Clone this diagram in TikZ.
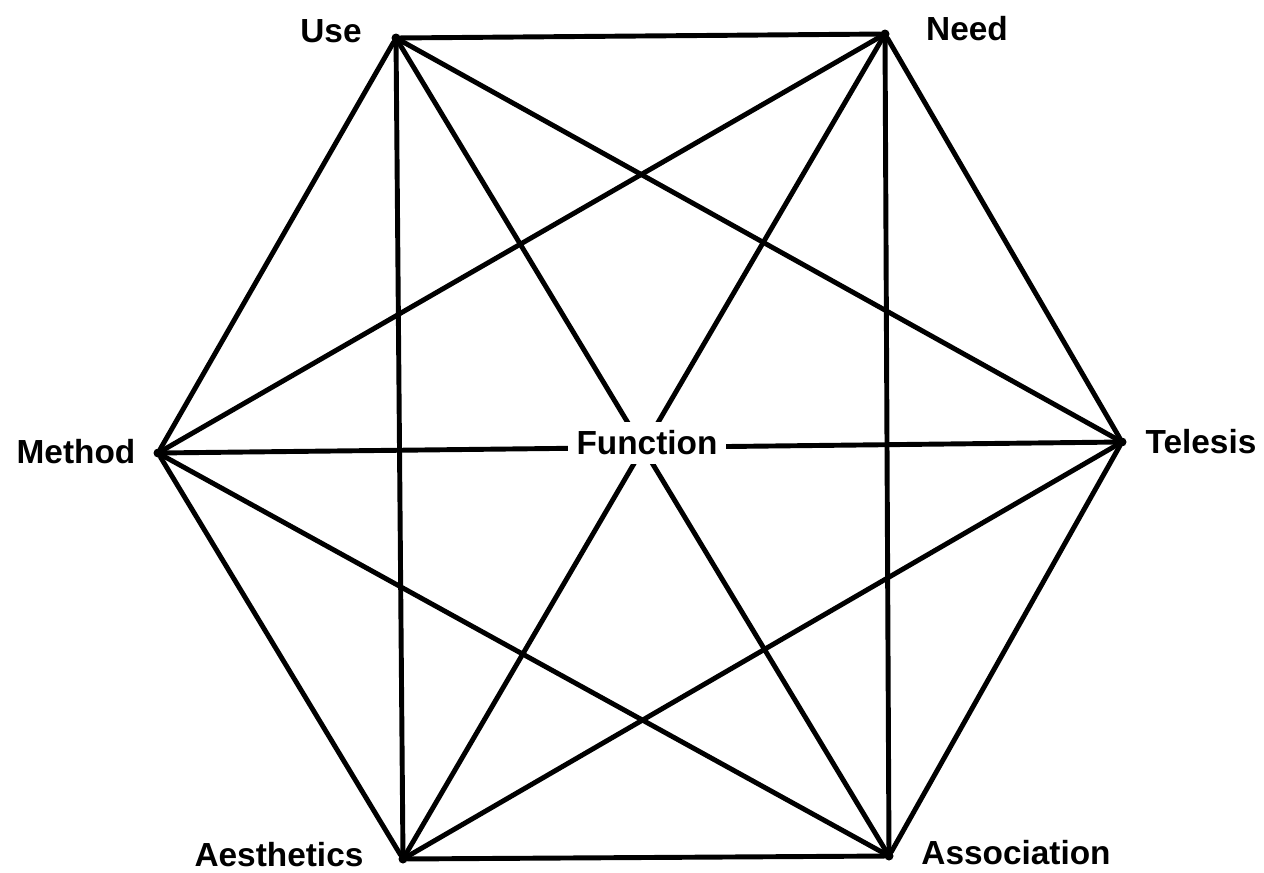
\documentclass[tikz,border=0pt]{standalone}
\usepackage{fontspec}
\setmainfont{Liberation Sans}
\begin{document}
\begin{tikzpicture}[x=0.02cm,y=-0.02cm,
  vtx/.style={circle,fill=black,inner sep=0pt,minimum size=0.18cm},
  lbl/.style={font=\bfseries\fontsize{19}{22}\selectfont,inner sep=0pt},
  edge/.style={line width=2.8pt,line cap=round},
  center/.style={font=\bfseries\fontsize{19}{22}\selectfont,fill=white,inner sep=5pt}]
\useasboundingbox (0,0) rectangle (1264,872);
\node[vtx] (use) at (396,38) {};
\node[vtx] (need) at (885,34) {};
\node[vtx] (tel) at (1122,442) {};
\node[vtx] (ass) at (889,856) {};
\node[vtx] (aes) at (403,859) {};
\node[vtx] (met) at (158,453) {};
\draw[edge] (use) -- (need);
\draw[edge] (use) -- (tel);
\draw[edge] (use) -- (ass);
\draw[edge] (use) -- (aes);
\draw[edge] (use) -- (met);
\draw[edge] (need) -- (tel);
\draw[edge] (need) -- (ass);
\draw[edge] (need) -- (aes);
\draw[edge] (need) -- (met);
\draw[edge] (tel) -- (ass);
\draw[edge] (tel) -- (aes);
\draw[edge] (tel) -- (met);
\draw[edge] (ass) -- (aes);
\draw[edge] (ass) -- (met);
\draw[edge] (aes) -- (met);
\node[center] (fun) at (647,443) {Function};
\node[lbl] (luse) at (331,31) {Use};
\node[lbl] (lneed) at (967,29) {Need};
\node[lbl] (lmet) at (76,452) {Method};
\node[lbl] (ltel) at (1201,442) {Telesis};
\node[lbl] (laes) at (279,855) {Aesthetics};
\node[lbl] (lass) at (1016,853) {Association};
\end{tikzpicture}
\end{document}
